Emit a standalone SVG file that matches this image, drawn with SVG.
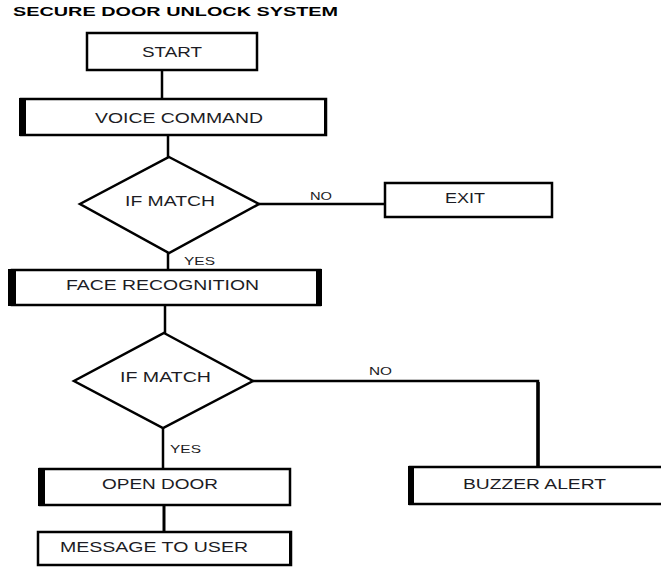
<svg xmlns="http://www.w3.org/2000/svg" width="661" height="567" viewBox="0 0 661 567">
<style>
.box{fill:#fff;stroke:#000;stroke-width:2.5}
.bar{fill:#000}
.ln{fill:none;stroke:#000;stroke-width:2.5}
.t{font-family:"Liberation Sans",Arial,sans-serif;font-size:14px;fill:#1c1c24}
.s{font-family:"Liberation Sans",Arial,sans-serif;font-size:10.5px;fill:#1c1c24}
.title{font-family:"Liberation Sans",Arial,sans-serif;font-size:13px;font-weight:bold;fill:#000}
</style>
<rect width="661" height="567" fill="#fff"/>
<text class="title" x="13" y="16" textLength="325" lengthAdjust="spacingAndGlyphs">SECURE DOOR UNLOCK SYSTEM</text>
<g id="connectors">
<path class="ln" d="M162 70 V100"/>
<path class="ln" d="M168 135 V157"/>
<path class="ln" d="M259 204 H385"/>
<path class="ln" d="M168 253 V270"/>
<path class="ln" d="M165 305 V333"/>
<path class="ln" d="M163 428 V469"/>
<path class="ln" d="M253 381 H538 V467" />
<path class="ln" d="M538 382 V467" style="stroke-width:3.5"/>
<path class="ln" d="M164 505 V532" style="stroke-width:3"/>
<text class="s" x="310" y="200" textLength="22" lengthAdjust="spacingAndGlyphs">NO</text>
<text class="s" x="184" y="265" textLength="31" lengthAdjust="spacingAndGlyphs">YES</text>
<text class="s" x="369" y="375" textLength="23" lengthAdjust="spacingAndGlyphs">NO</text>
<text class="s" x="170" y="453" textLength="31" lengthAdjust="spacingAndGlyphs">YES</text>
</g>
<g id="start">
<rect class="box" x="87" y="33" width="170" height="37"/>
<text class="t" x="142" y="57" textLength="60" lengthAdjust="spacingAndGlyphs">START</text>
</g>
<g id="voice">
<rect class="box" x="21" y="99" width="305" height="36"/>
<rect class="bar" x="19" y="98" width="7" height="38"/>
<rect class="bar" x="324" y="98" width="3" height="38"/>
<text class="t" x="95" y="123" textLength="168" lengthAdjust="spacingAndGlyphs">VOICE COMMAND</text>
</g>
<g id="match1">
<polygon class="box" points="169,157 259,204 169,253 80,204"/>
<text class="t" x="125" y="206" textLength="90" lengthAdjust="spacingAndGlyphs">IF MATCH</text>
</g>
<g id="exit">
<rect class="box" x="385" y="183" width="167" height="34"/>
<text class="t" x="445" y="203" textLength="40" lengthAdjust="spacingAndGlyphs">EXIT</text>
</g>
<g id="face">
<rect class="box" x="12" y="270" width="308" height="35"/>
<rect class="bar" x="8" y="269" width="8" height="37"/>
<rect class="bar" x="316" y="269" width="6" height="37"/>
<text class="t" x="66" y="290" textLength="193" lengthAdjust="spacingAndGlyphs">FACE RECOGNITION</text>
</g>
<g id="match2">
<polygon class="box" points="164,333 253,381 163,428 74,381"/>
<text class="t" x="120" y="382" textLength="91" lengthAdjust="spacingAndGlyphs">IF MATCH</text>
</g>
<g id="open">
<rect class="box" x="40" y="469" width="250" height="36"/>
<rect class="bar" x="38" y="468" width="7" height="38"/>
<text class="t" x="102" y="489" textLength="116" lengthAdjust="spacingAndGlyphs">OPEN DOOR</text>
</g>
<g id="buzzer">
<rect class="box" x="410" y="467" width="260" height="37"/>
<rect class="bar" x="408" y="466" width="6" height="39"/>
<text class="t" x="463" y="489" textLength="143" lengthAdjust="spacingAndGlyphs">BUZZER ALERT</text>
</g>
<g id="message">
<rect class="box" x="38" y="532" width="253" height="33"/>
<rect class="bar" x="289" y="531" width="3" height="35"/>
<text class="t" x="60" y="552" textLength="188" lengthAdjust="spacingAndGlyphs">MESSAGE TO USER</text>
</g>
</svg>
